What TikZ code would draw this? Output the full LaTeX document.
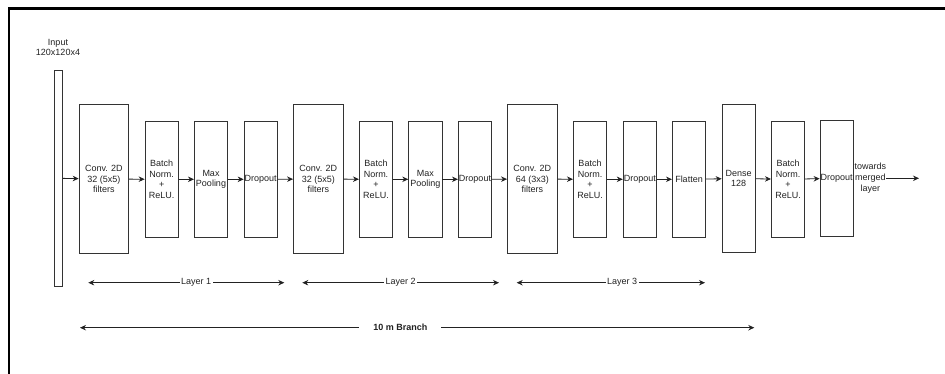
\documentclass[tikz,border=0pt]{standalone}
\usepackage{fontspec}
\setmainfont{Liberation Sans}
\usetikzlibrary{arrows.meta,positioning}
\definecolor{ink}{HTML}{222222}
\definecolor{edge}{HTML}{333333}

\begin{document}
\begin{tikzpicture}[x=1pt,y=-1pt,
  every node/.style={font=\fontsize{9}{10.7}\selectfont,text=ink,align=center,inner sep=0pt},
  blk/.style={draw=edge,line width=0.8pt,minimum width=33.3pt,minimum height=116pt},
  bigblk/.style={blk,minimum width=49.7pt,minimum height=149.4pt},
  flow/.style={draw=ink,line width=0.8pt,-{Stealth[length=6pt,width=5.5pt]}},
  span/.style={draw=ink,line width=0.8pt,{Stealth[length=6pt,width=5.5pt]}-{Stealth[length=6pt,width=5.5pt]}},
  tag/.style={fill=white,inner xsep=1.5pt}]
  \useasboundingbox (0,0) rectangle (945,374);
  % frame
  \draw[line width=2.6pt] (9,374) -- (9,8.5) -- (945,8.5);

  % input
  \node[draw=edge,line width=0.8pt,minimum width=8.4pt,minimum height=215.3pt] (inp) at (58.5,178.3) {};
  \node (inptxt) at (58,47.5) {Input\\120x120x4};

  % Layer 1
  \node[bigblk] (conv1) at (103.9,179) {Conv. 2D\\32 (5x5)\\filters};
  \node[blk] (bn1) at (161.7,179.3) {Batch\\Norm.\\+\\ReLU.};
  \node[blk] (pool1) at (211,179.3) {Max\\Pooling};
  \node[blk] (drop1) at (260.7,179.3) {Dropout};

  % Layer 2
  \node[bigblk] (conv2) at (318.3,179) {Conv. 2D\\32 (5x5)\\filters};
  \node[blk] (bn2) at (376,179.3) {Batch\\Norm.\\+\\ReLU.};
  \node[blk] (pool2) at (425.3,179.3) {Max\\Pooling};
  \node[blk] (drop2) at (475,179.3) {Dropout};

  % Layer 3
  \node[bigblk] (conv3) at (532.3,179) {Conv. 2D\\64 (3x3)\\filters};
  \node[blk] (bn3) at (590,179.3) {Batch\\Norm.\\+\\ReLU.};
  \node[blk] (drop3) at (639.8,179.3) {Dropout};
  \node[blk] (flat) at (689,179.3) {Flatten};

  % dense part
  \node[blk,minimum height=148.4pt] (dense) at (738.7,178.5) {Dense\\128};
  \node[blk] (bn4) at (788,179.3) {Batch\\Norm.\\+\\ReLU.};
  \node[blk] (drop4) at (836.7,178.3) {Dropout};
  \node[anchor=west] (out) at (854.3,178.3) {towards\\merged\\layer};
  \coordinate (outend) at (919,178.3);

  % connectors
  \draw[flow] (inp) -- (conv1);
  \draw[flow] (conv1) -- (bn1);
  \draw[flow] (bn1) -- (pool1);
  \draw[flow] (pool1) -- (drop1);
  \draw[flow] (drop1) -- (conv2);
  \draw[flow] (conv2) -- (bn2);
  \draw[flow] (bn2) -- (pool2);
  \draw[flow] (pool2) -- (drop2);
  \draw[flow] (drop2) -- (conv3);
  \draw[flow] (conv3) -- (bn3);
  \draw[flow] (bn3) -- (drop3);
  \draw[flow] (drop3) -- (flat);
  \draw[flow] (flat) -- (dense);
  \draw[flow] (dense) -- (bn4);
  \draw[flow] (bn4) -- (drop4);
  \draw[flow] (out) -- (outend);

  % spans
  \coordinate (l1a) at (88.3,282.7);
  \coordinate (l1b) at (284.3,282.7);
  \coordinate (l2a) at (302.3,282.7);
  \coordinate (l2b) at (499,282.7);
  \coordinate (l3a) at (516.7,282.7);
  \coordinate (l3b) at (705,282.7);
  \coordinate (bra) at (80,327.7);
  \coordinate (brb) at (754.3,327.7);
  \draw[span] (l1a) -- node[tag,pos=0.55] (lay1) {Layer 1} (l1b);
  \draw[span] (l2a) -- node[tag,pos=0.5] (lay2) {Layer 2} (l2b);
  \draw[span] (l3a) -- node[tag,pos=0.56] (lay3) {Layer 3} (l3b);
  \draw[span] (bra) -- node[tag,pos=0.475,inner xsep=14pt,font=\fontsize{9}{10.7}\selectfont\bfseries] (branch) {10 m Branch} (brb);
\end{tikzpicture}
\end{document}
